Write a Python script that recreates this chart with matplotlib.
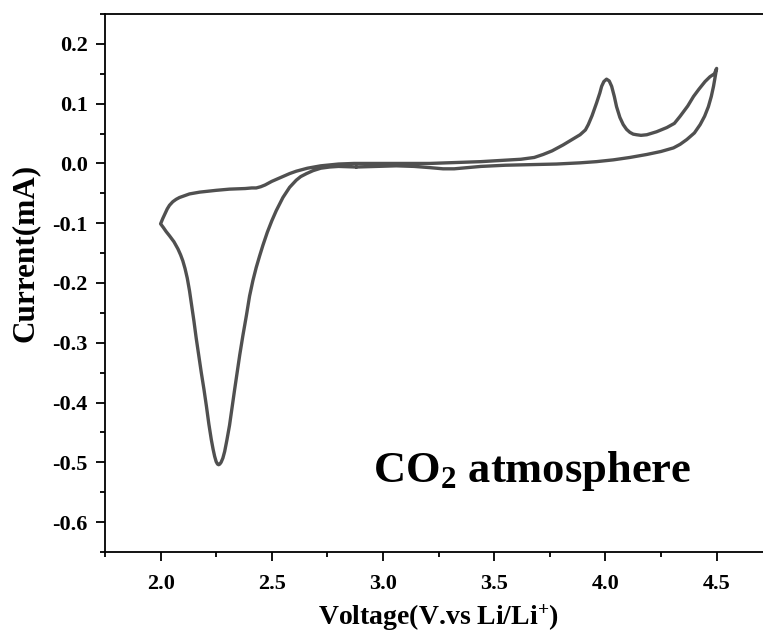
import matplotlib
matplotlib.use("Agg")
import matplotlib.pyplot as plt
from matplotlib.ticker import MultipleLocator

# cyclic voltammogram (V vs Li/Li+, mA)
# scan: 2.88 V -> 2.0 V -> 4.5 V -> back to 2.88 V
voltage = [2.88, 2.80, 2.76, 2.72, 2.686, 2.656, 2.63, 2.61, 2.58, 2.55,
           2.52, 2.50, 2.48, 2.46, 2.445, 2.43, 2.415, 2.40, 2.386, 2.37,
           2.356, 2.333, 2.31, 2.298, 2.288, 2.28, 2.272, 2.266, 2.261, 2.256,
           2.25, 2.243, 2.236, 2.228, 2.217, 2.206, 2.195, 2.183, 2.16, 2.15,
           2.138, 2.13, 2.12, 2.11, 2.10, 2.09, 2.078, 2.06, 2.04, 2.025,
           2.012, 2.0,
           2.01, 2.02, 2.03, 2.04, 2.055, 2.07, 2.085, 2.10, 2.13, 2.176,
           2.25, 2.31, 2.38, 2.41, 2.43, 2.45, 2.47, 2.50, 2.525, 2.55,
           2.58, 2.61, 2.66, 2.72, 2.80, 2.87, 2.99, 3.21, 3.44, 3.62,
           3.68, 3.72, 3.76, 3.78, 3.81, 3.85, 3.886, 3.91, 3.923, 3.94,
           3.96, 3.975, 3.983, 3.993, 4.005, 4.017, 4.028, 4.04, 4.05, 4.065,
           4.08, 4.095, 4.11, 4.125, 4.14, 4.16, 4.186, 4.23, 4.276, 4.31,
           4.336, 4.37, 4.396, 4.42, 4.448, 4.47, 4.49, 4.5,
           4.494, 4.486, 4.476, 4.463, 4.446, 4.426, 4.40, 4.366, 4.336, 4.306,
           4.25, 4.186, 4.11, 4.036, 3.96, 3.886, 3.78, 3.66, 3.55, 3.44,
           3.38, 3.32, 3.27, 3.21, 3.14, 3.06, 2.97, 2.88]
current = [-0.006, -0.005, -0.006, -0.008, -0.012, -0.017, -0.022, -0.028, -0.040, -0.057,
           -0.079, -0.096, -0.115, -0.137, -0.155, -0.174, -0.196, -0.222, -0.254, -0.288,
           -0.320, -0.378, -0.438, -0.463, -0.482, -0.493, -0.500, -0.503, -0.504, -0.503,
           -0.499, -0.490, -0.478, -0.462, -0.436, -0.406, -0.378, -0.350, -0.292, -0.264,
           -0.233, -0.213, -0.192, -0.176, -0.163, -0.153, -0.143, -0.131, -0.121, -0.114,
           -0.107, -0.101,
           -0.092, -0.084, -0.076, -0.070, -0.064, -0.060, -0.057, -0.055, -0.051, -0.048,
           -0.045, -0.043, -0.042, -0.041, -0.041, -0.039, -0.036, -0.030, -0.026, -0.022,
           -0.017, -0.013, -0.008, -0.004, -0.001, 0.000, 0.000, 0.000, 0.003, 0.007,
           0.010, 0.015, 0.021, 0.025, 0.031, 0.040, 0.048, 0.056, 0.065, 0.080,
           0.101, 0.118, 0.129, 0.137, 0.141, 0.138, 0.129, 0.112, 0.095, 0.077,
           0.065, 0.057, 0.052, 0.049, 0.048, 0.047, 0.048, 0.053, 0.060, 0.067,
           0.079, 0.096, 0.112, 0.124, 0.137, 0.145, 0.150, 0.159,
           0.146, 0.129, 0.112, 0.095, 0.079, 0.065, 0.051, 0.040, 0.032, 0.026,
           0.020, 0.015, 0.010, 0.006, 0.003, 0.001, -0.001, -0.002, -0.003, -0.005,
           -0.007, -0.009, -0.009, -0.007, -0.005, -0.004, -0.005, -0.006]

plt.rcParams['font.family'] = ['Liberation Serif', 'DejaVu Serif']
plt.rcParams['font.weight'] = 'bold'
plt.rcParams['mathtext.default'] = 'regular'
plt.rcParams['axes.unicode_minus'] = False

fig = plt.figure(figsize=(7.63, 6.36), dpi=100)
ax = fig.add_axes([0.1376, 0.1321, 0.8745, 0.8459])

ax.plot(voltage, current, color='#505050', lw=2.4,
        solid_joinstyle='round', solid_capstyle='round')

ax.set_xlim(1.75, 4.75)
ax.set_ylim(-0.65, 0.25)
ax.xaxis.set_minor_locator(MultipleLocator(0.25))
ax.yaxis.set_minor_locator(MultipleLocator(0.05))
ax.set_xticks([2.0, 2.5, 3.0, 3.5, 4.0, 4.5])
ax.set_yticks([-0.6, -0.5, -0.4, -0.3, -0.2, -0.1, 0.0, 0.1, 0.2])
ax.set_xticklabels(['2.0', '2.5', '3.0', '3.5', '4.0', '4.5'])
ax.set_yticklabels(['-0.6', '-0.5', '-0.4', '-0.3', '-0.2', '-0.1', '0.0', '0.1', '0.2'])

for s in ax.spines.values():
    s.set_linewidth(1.3)
ax.spines['right'].set_visible(False)
ax.tick_params(which='major', direction='out', length=6.5, width=1.3, labelsize=16)
ax.tick_params(which='minor', direction='out', length=3.5, width=1.3)
ax.tick_params(axis='x', which='major', pad=9)
ax.tick_params(axis='y', which='major', pad=6)
ax.tick_params(top=False, right=False, which='both')

ax.set_xlabel('Voltage(V.vs Li/Li$^{+}$)', fontsize=20, fontweight='bold')
ax.set_ylabel('Current(mA)', fontsize=22.5, fontweight='bold')
ax.xaxis.set_label_coords(0.5, -0.094)
ax.yaxis.set_label_coords(-0.098, 0.556)

ax.text(2.954, -0.533, 'CO$_2$ atmosphere', fontsize=32, fontweight='bold',
        ha='left', va='baseline')

fig.savefig('out.png', dpi=100)
